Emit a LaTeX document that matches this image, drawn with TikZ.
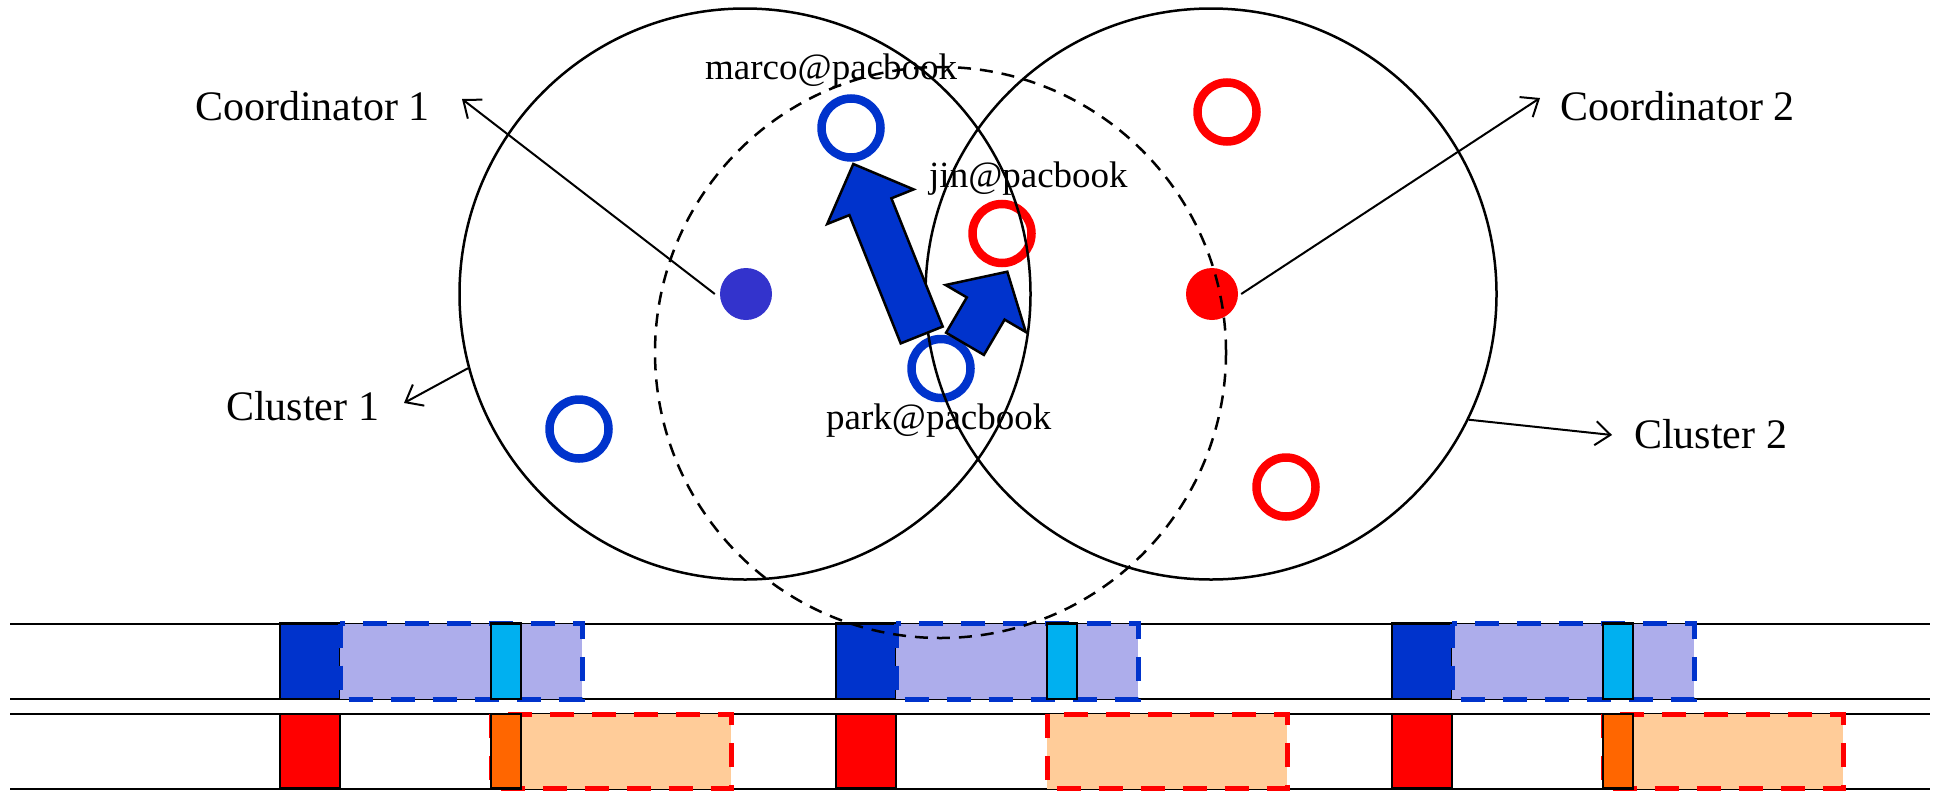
\documentclass[tikz,border=0pt]{standalone}
\usepackage{fontspec}
\setmainfont{Liberation Serif}
\usetikzlibrary{arrows.meta}
\definecolor{dkblue}{HTML}{0033CC}
\definecolor{ltblue}{HTML}{ADADEB}
\definecolor{cyanb}{HTML}{00B0F0}
\definecolor{orng}{HTML}{FF6600}
\definecolor{peach}{HTML}{FFCC99}
\definecolor{dotblue}{HTML}{3333CC}
\tikzset{
  lane/.style={line width=2pt},
  solidblk/.style={draw=black, line width=2.5pt},
  dashbox/.style={line width=5pt, dash pattern=on 24pt off 18pt},
  ring/.style={circle, draw, line width=8.5pt, minimum size=59pt, inner sep=0pt},
  dotnode/.style={circle, minimum size=52pt, inner sep=0pt},
  cluster/.style={circle, draw=black, line width=2.5pt, minimum size=571pt, inner sep=0pt},
  thinarr/.style={line width=2pt, -{Straight Barb[length=15pt,width=24pt]}},
  blockarr/.style={fill=dkblue, draw=black, line width=2.5pt, line join=miter},
  biglbl/.style={inner sep=0pt, font=\fontsize{42}{48}\selectfont},
  smalllbl/.style={inner sep=0pt, font=\fontsize{37}{42}\selectfont},
}
\begin{document}
\begin{tikzpicture}[x=1pt,y=-1pt]
\useasboundingbox (0,0) rectangle (1937,790);
% lanes
\foreach \y in {623.5,699,714,788.5} \draw[lane] (10,\y) -- (1930,\y);
\foreach \g/\o in {280/1,836/0,1392/1} {
  \draw[solidblk, fill=dkblue] (\g,623.5) rectangle (\g+60,699);
  \fill[ltblue] (\g+60,623.5) rectangle (\g+302,699);
  \draw[dashbox, dkblue] (\g+60,623.5) rectangle (\g+302,699);
  \draw[solidblk, fill=cyanb] (\g+211,623.5) rectangle (\g+241,699);
  \draw[solidblk, fill=red] (\g,714) rectangle (\g+60,788.5);
  \fill[peach] (\g+211,714) rectangle (\g+451,788.5);
  \draw[dashbox, red] (\g+211,714) rectangle (\g+451,788.5);
  \ifnum\o=1
    \draw[solidblk, fill=orng] (\g+211,714) rectangle (\g+241,788.5);
  \fi
}
% coordinators and members
\node[dotnode, fill=dotblue] (c1) at (746,294) {};
\node[dotnode, fill=red] (c2) at (1212,294) {};
\node[ring, draw=dkblue] (marco) at (851,128) {};
\node[ring, draw=dkblue] (park) at (941,368.5) {};
\node[ring, draw=dkblue] (b3) at (579,429) {};
\node[ring, draw=red] (jin) at (1002,233.5) {};
\node[ring, draw=red] (r2) at (1227,112) {};
\node[ring, draw=red] (r3) at (1286,487) {};
% labels
\node[smalllbl, anchor=base west] (lmarco) at (705,79) {marco@pacbook};
\node[smalllbl, anchor=base west] (ljin) at (929,187) {jin@pacbook};
\node[smalllbl, anchor=base west] (lpark) at (826,429) {park@pacbook};
\node[biglbl, anchor=base west] (lco1) at (195,120) {Coordinator 1};
\node[biglbl, anchor=base west] (lcl1) at (226,420) {Cluster 1};
\node[biglbl, anchor=base west] (lco2) at (1560,120) {Coordinator 2};
\node[biglbl, anchor=base west] (lcl2) at (1634,448) {Cluster 2};
% cluster circles
\node[cluster] (cl1) at (745,294) {};
\node[cluster] (cl2) at (1211,294) {};
\node[cluster, dash pattern=on 13pt off 9pt] (dc) at (940.5,352.5) {};
% block arrows
\draw[blockarr] (900.7,343.4) -- (849.4,215.1) -- (827.2,224.0) -- (853.3,164) -- (913.6,189.4) -- (891.4,198.3) -- (942.7,326.6) -- cycle;
\draw[blockarr] (946.1,332.7) -- (966.8,297.4) -- (945.6,285.0) -- (1007.3,271.7) -- (1025.8,332.0) -- (1004.6,319.6) -- (983.9,354.9) -- cycle;
% thin arrows
\coordinate (t1) at (462,99);
\coordinate (t2) at (1540,98);
\coordinate (t3) at (404,403);
\coordinate (t4) at (1612,435);
\draw[thinarr] ([xshift=-5pt]c1.west) -- (t1);
\draw[thinarr] ([xshift=3pt]c2.east) -- (t2);
\draw[thinarr] (cl1.195) -- (t3);
\draw[thinarr] (cl2.-26) -- (t4);
\end{tikzpicture}
\end{document}
